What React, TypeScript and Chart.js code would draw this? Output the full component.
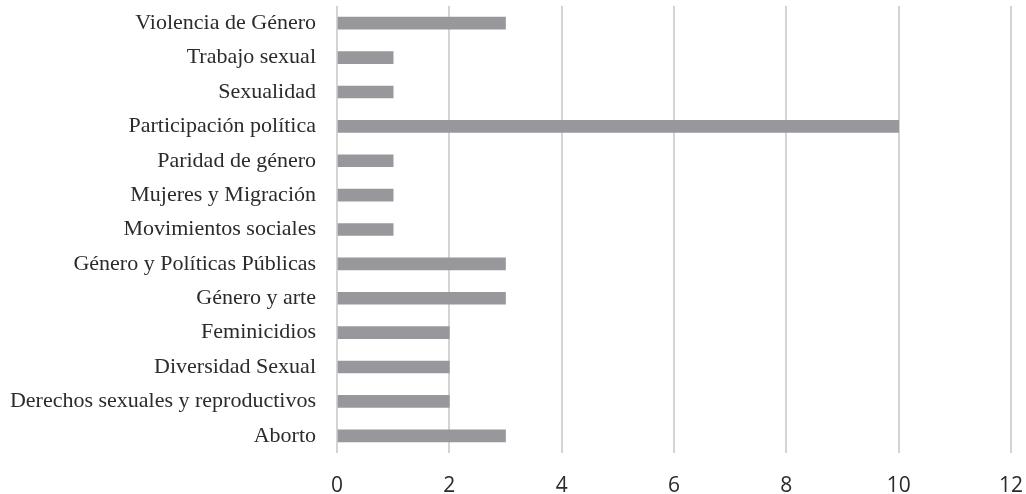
import React, { useEffect, useRef } from "react";
import { Chart, registerables } from "chart.js";

Chart.register(...registerables);

const categories = [
  "Violencia de Género",
  "Trabajo sexual",
  "Sexualidad",
  "Participación política",
  "Paridad de género",
  "Mujeres y Migración",
  "Movimientos sociales",
  "Género y Políticas Públicas",
  "Género y arte",
  "Feminicidios",
  "Diversidad Sexual",
  "Derechos sexuales y reproductivos",
  "Aborto",
];

const counts = [3, 1, 1, 10, 1, 1, 1, 3, 3, 2, 2, 2, 3];

const xMin = 0;
const xMax = 12;
const xStep = 2;

export default function App() {
  const ref = useRef<HTMLCanvasElement | null>(null);

  useEffect(() => {
    if (!ref.current) return;
    const chart = new Chart(ref.current, {
      type: "bar",
      data: {
        labels: categories,
        datasets: [
          {
            data: counts,
            backgroundColor: "#98989c",
            borderWidth: 0,
            barThickness: 12,
          },
        ],
      },
      options: {
        indexAxis: "y",
        animation: false,
        responsive: false,
        maintainAspectRatio: false,
        layout: { padding: { top: 6, right: 15, left: 0, bottom: 0 } },
        plugins: {
          legend: { display: false },
          tooltip: { enabled: false },
        },
        scales: {
          x: {
            min: xMin,
            max: xMax,
            afterFit: (scale: any) => {
              scale.height = 41;
              scale.paddingLeft = 0;
              scale.paddingRight = 0;
            },
            ticks: {
              stepSize: xStep,
              padding: 20,
              color: "#2b2b2b",
              font: { family: "'Open Sans', sans-serif", size: 21 },
            },
            grid: {
              color: "#d4d4d4",
              lineWidth: 2,
              drawTicks: false,
            },
            border: { display: false },
          },
          y: {
            afterFit: (scale: any) => {
              scale.width = 337;
              scale.paddingTop = 0;
              scale.paddingBottom = 0;
            },
            ticks: {
              padding: 21,
              color: "#2b2b2b",
              font: { family: "'Liberation Serif', serif", size: 22 },
            },
            grid: { display: false, drawTicks: false },
            border: { display: false },
          },
        },
      },
    });
    return () => chart.destroy();
  }, []);

  return (
    <div style={{ position: "fixed", left: 0, top: 0, width: 1026, height: 494, background: "#fff" }}>
      <canvas ref={ref} width={1026} height={494} style={{ display: "block" }} />
    </div>
  );
}
